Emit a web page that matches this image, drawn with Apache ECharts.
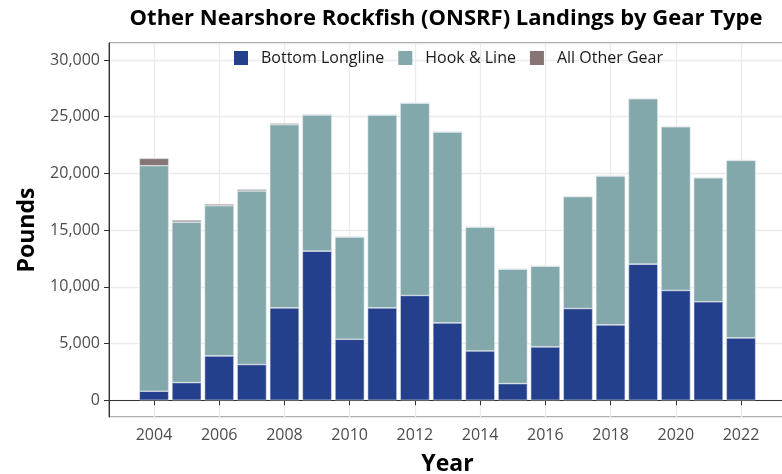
<!DOCTYPE html>
<html>
<head>
<meta charset="utf-8">
<script src="https://cdn.jsdelivr.net/npm/echarts@6/dist/echarts.min.js"></script>
<style>
  html, body { margin: 0; padding: 0; background: #fff; }
  #chart { width: 782px; height: 474px; }
</style>
</head>
<body>
<div id="chart"></div>
<script>
// landings in pounds
var years = [2004, 2005, 2006, 2007, 2008, 2009, 2010, 2011, 2012, 2013,
             2014, 2015, 2016, 2017, 2018, 2019, 2020, 2021, 2022];
var bottomLongline = [800, 1560, 3910, 3150, 8150, 13150, 5380, 8150, 9240, 6820,
                      4350, 1470, 4710, 8090, 6650, 12000, 9680, 8680, 5500];
var hookLine = [19880, 14150, 13240, 15300, 16150, 12000, 9020, 17000, 16960, 16830,
                10920, 10090, 7120, 9860, 13120, 14590, 14440, 10940, 15650];
var otherGear = [650, 180, 150, 150, 120, 65, 20, 0, 40, 30,
                 30, 30, 0, 30, 30, 0, 0, 0, 0];

var seriesNames = ['Bottom Longline', 'Hook & Line', 'All Other Gear'];
var seriesColors = ['#243f8c', '#82a8ac', '#877474'];

var FONT = '"Open Sans", sans-serif';
var Y_MIN = -1475, Y_MAX = 31500;

var chart = echarts.init(document.getElementById('chart'));

// bars live on a hidden category grid whose bands line up with the year scale below
var series = [bottomLongline, hookLine, otherGear].map(function (vals, i) {
  return {
    name: seriesNames[i],
    type: 'bar',
    stack: 'gear',
    xAxisIndex: 1,
    yAxisIndex: 1,
    barWidth: '90%',
    data: vals,
    itemStyle: {
      color: seriesColors[i],
      borderColor: 'rgba(225,232,236,0.9)',
      borderWidth: 0.6
    }
  };
});

var option = {
  backgroundColor: '#fff',
  animation: false,
  graphic: [{
    type: 'text',
    x: 446,
    y: 19,
    style: {
      text: 'Other Nearshore Rockfish (ONSRF) Landings by Gear Type',
      textAlign: 'center',
      textVerticalAlign: 'middle',
      font: 'bold 22px ' + FONT,
      fill: '#000'
    }
  }],
  legend: {
    top: 45,
    left: 229,
    itemWidth: 14,
    itemHeight: 14,
    itemGap: 14,
    icon: 'rect',
    data: seriesNames,
    itemStyle: { borderWidth: 0 },
    textStyle: {
      fontFamily: FONT,
      fontSize: 16,
      color: '#1a1a1a',
      padding: [0, 0, 0, 8]
    }
  },
  grid: [{
    left: 109,
    right: -4,
    top: 43,
    bottom: 57,
    outerBoundsMode: 'none',
    show: true,
    borderColor: '#333',
    borderWidth: 1,
    backgroundColor: 'transparent'
  }, {
    left: 137.7,
    right: 24.7,
    top: 43,
    bottom: 57,
    outerBoundsMode: 'none'
  }],
  xAxis: [{
    type: 'value',
    gridIndex: 0,
    min: 2002.62,
    max: 2023.38,
    splitNumber: 10,
    name: 'Year',
    nameLocation: 'middle',
    nameGap: 36,
    nameTextStyle: { fontFamily: FONT, fontSize: 23, fontWeight: 'bold', color: '#000' },
    axisLine: { show: true, lineStyle: { color: '#333', width: 1 } },
    axisTick: { show: true, length: 5, lineStyle: { color: '#333' } },
    axisLabel: {
      fontFamily: FONT, fontSize: 16, color: '#4d4d4d', margin: 10,
      showMinLabel: false, showMaxLabel: false,
      formatter: function (v) { return (Math.abs(v - Math.round(v)) < 1e-6 && Math.round(v) % 2 === 0) ? String(Math.round(v)) : ''; }
    },
    splitLine: { show: true, lineStyle: { color: '#ebebeb', width: 1.3 } }
  }, {
    type: 'category',
    gridIndex: 1,
    data: years,
    boundaryGap: true,
    show: false
  }],
  yAxis: [{
    type: 'value',
    gridIndex: 0,
    min: Y_MIN,
    max: Y_MAX,
    splitNumber: 5,
    name: 'Pounds',
    nameLocation: 'middle',
    nameGap: 64,
    nameTextStyle: { fontFamily: FONT, fontSize: 23, fontWeight: 'bold', color: '#000' },
    axisLine: { show: true, lineStyle: { color: '#333', width: 1 } },
    axisTick: { show: true, length: 5, lineStyle: { color: '#333' } },
    axisLabel: {
      fontFamily: FONT, fontSize: 16, color: '#4d4d4d', margin: 9,
      showMinLabel: false, showMaxLabel: false,
      formatter: function (v) { return v % 5000 === 0 ? v.toLocaleString('en-US') : ''; }
    },
    splitLine: { show: true, lineStyle: { color: '#ebebeb', width: 1.3 } }
  }, {
    type: 'value',
    gridIndex: 1,
    min: Y_MIN,
    max: Y_MAX,
    show: false,
    splitLine: { show: false }
  }],
  series: series
};

option && chart.setOption(option);
</script>
</body>
</html>
